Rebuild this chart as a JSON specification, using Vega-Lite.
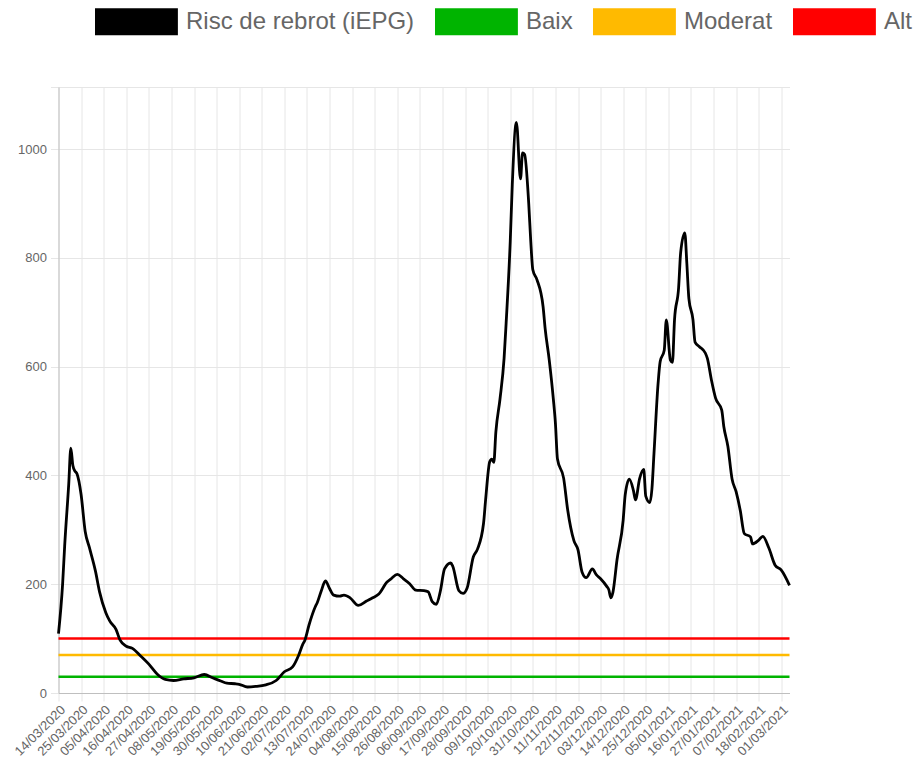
{
  "$schema": "https://vega.github.io/schema/vega-lite/v6.json",
  "width": 731,
  "height": 606,
  "autosize": {"type": "none"},
  "padding": {"left": 58.5, "top": 87, "right": 131.5, "bottom": 67},
  "background": "white",
  "config": {"view": {"stroke": null}, "font": "Liberation Sans"},
  "layer": [
    {
      "data": {"values": [
        {"nivell": "Baix", "valor": 30},
        {"nivell": "Moderat", "valor": 70},
        {"nivell": "Alt", "valor": 100}
      ]},
      "mark": {"type": "rule", "strokeWidth": 2.5},
      "encoding": {
        "y": {"field": "valor", "type": "quantitative"},
        "color": {"field": "nivell", "type": "nominal", "title": null}
      }
    },
    {
      "data": {"values": [
        {"data": "2020-03-14", "iepg": 109},
        {"data": "2020-03-16", "iepg": 200},
        {"data": "2020-03-17", "iepg": 270},
        {"data": "2020-03-19", "iepg": 385},
        {"data": "2020-03-20", "iepg": 450},
        {"data": "2020-03-21", "iepg": 418},
        {"data": "2020-03-22", "iepg": 408},
        {"data": "2020-03-23", "iepg": 403},
        {"data": "2020-03-25", "iepg": 365},
        {"data": "2020-03-27", "iepg": 297},
        {"data": "2020-03-29", "iepg": 268},
        {"data": "2020-04-01", "iepg": 224},
        {"data": "2020-04-03", "iepg": 186},
        {"data": "2020-04-06", "iepg": 148},
        {"data": "2020-04-08", "iepg": 132},
        {"data": "2020-04-11", "iepg": 117},
        {"data": "2020-04-13", "iepg": 97},
        {"data": "2020-04-16", "iepg": 86},
        {"data": "2020-04-19", "iepg": 82},
        {"data": "2020-04-23", "iepg": 68},
        {"data": "2020-04-27", "iepg": 53},
        {"data": "2020-05-01", "iepg": 35},
        {"data": "2020-05-05", "iepg": 25},
        {"data": "2020-05-09", "iepg": 23},
        {"data": "2020-05-14", "iepg": 26},
        {"data": "2020-05-19", "iepg": 28},
        {"data": "2020-05-24", "iepg": 34},
        {"data": "2020-05-28", "iepg": 28},
        {"data": "2020-06-01", "iepg": 22},
        {"data": "2020-06-04", "iepg": 18},
        {"data": "2020-06-08", "iepg": 17},
        {"data": "2020-06-10", "iepg": 16},
        {"data": "2020-06-14", "iepg": 11},
        {"data": "2020-06-18", "iepg": 12},
        {"data": "2020-06-23", "iepg": 15},
        {"data": "2020-06-28", "iepg": 23},
        {"data": "2020-07-02", "iepg": 39},
        {"data": "2020-07-06", "iepg": 48},
        {"data": "2020-07-09", "iepg": 70},
        {"data": "2020-07-11", "iepg": 90},
        {"data": "2020-07-12", "iepg": 97},
        {"data": "2020-07-14", "iepg": 125},
        {"data": "2020-07-17", "iepg": 158},
        {"data": "2020-07-18", "iepg": 166},
        {"data": "2020-07-20", "iepg": 188},
        {"data": "2020-07-22", "iepg": 206},
        {"data": "2020-07-24", "iepg": 192},
        {"data": "2020-07-26", "iepg": 180},
        {"data": "2020-07-29", "iepg": 178},
        {"data": "2020-07-31", "iepg": 180},
        {"data": "2020-08-03", "iepg": 175},
        {"data": "2020-08-07", "iepg": 161},
        {"data": "2020-08-11", "iepg": 169},
        {"data": "2020-08-14", "iepg": 175},
        {"data": "2020-08-17", "iepg": 182},
        {"data": "2020-08-21", "iepg": 204},
        {"data": "2020-08-23", "iepg": 210},
        {"data": "2020-08-26", "iepg": 218},
        {"data": "2020-08-29", "iepg": 210},
        {"data": "2020-09-01", "iepg": 201},
        {"data": "2020-09-04", "iepg": 189},
        {"data": "2020-09-08", "iepg": 188},
        {"data": "2020-09-10", "iepg": 186},
        {"data": "2020-09-12", "iepg": 168},
        {"data": "2020-09-14", "iepg": 163},
        {"data": "2020-09-16", "iepg": 188},
        {"data": "2020-09-18", "iepg": 228},
        {"data": "2020-09-21", "iepg": 239},
        {"data": "2020-09-22", "iepg": 233},
        {"data": "2020-09-25", "iepg": 188},
        {"data": "2020-09-27", "iepg": 183},
        {"data": "2020-09-29", "iepg": 193},
        {"data": "2020-10-02", "iepg": 250},
        {"data": "2020-10-04", "iepg": 264},
        {"data": "2020-10-07", "iepg": 312},
        {"data": "2020-10-08", "iepg": 355},
        {"data": "2020-10-10", "iepg": 425},
        {"data": "2020-10-11", "iepg": 430},
        {"data": "2020-10-12", "iepg": 424},
        {"data": "2020-10-13", "iepg": 480},
        {"data": "2020-10-15", "iepg": 540},
        {"data": "2020-10-17", "iepg": 615},
        {"data": "2020-10-18", "iepg": 680},
        {"data": "2020-10-20", "iepg": 830},
        {"data": "2020-10-21", "iepg": 935},
        {"data": "2020-10-23", "iepg": 1049},
        {"data": "2020-10-25", "iepg": 945},
        {"data": "2020-10-26", "iepg": 993},
        {"data": "2020-10-27", "iepg": 990},
        {"data": "2020-10-29", "iepg": 900},
        {"data": "2020-10-30", "iepg": 830},
        {"data": "2020-10-31", "iepg": 778},
        {"data": "2020-11-02", "iepg": 760},
        {"data": "2020-11-05", "iepg": 710},
        {"data": "2020-11-06", "iepg": 670},
        {"data": "2020-11-08", "iepg": 612},
        {"data": "2020-11-10", "iepg": 540},
        {"data": "2020-11-11", "iepg": 496},
        {"data": "2020-11-12", "iepg": 430},
        {"data": "2020-11-15", "iepg": 395},
        {"data": "2020-11-17", "iepg": 336},
        {"data": "2020-11-20", "iepg": 280},
        {"data": "2020-11-22", "iepg": 263},
        {"data": "2020-11-24", "iepg": 222},
        {"data": "2020-11-26", "iepg": 212},
        {"data": "2020-11-29", "iepg": 228},
        {"data": "2020-12-01", "iepg": 217},
        {"data": "2020-12-03", "iepg": 210},
        {"data": "2020-12-06", "iepg": 196},
        {"data": "2020-12-07", "iepg": 190},
        {"data": "2020-12-08", "iepg": 175},
        {"data": "2020-12-09", "iepg": 185},
        {"data": "2020-12-11", "iepg": 245},
        {"data": "2020-12-14", "iepg": 318},
        {"data": "2020-12-15", "iepg": 365},
        {"data": "2020-12-17", "iepg": 393},
        {"data": "2020-12-19", "iepg": 372},
        {"data": "2020-12-20", "iepg": 355},
        {"data": "2020-12-22", "iepg": 394},
        {"data": "2020-12-24", "iepg": 411},
        {"data": "2020-12-25", "iepg": 362},
        {"data": "2020-12-27", "iepg": 350},
        {"data": "2020-12-28", "iepg": 375},
        {"data": "2020-12-29", "iepg": 440},
        {"data": "2020-12-31", "iepg": 569},
        {"data": "2021-01-01", "iepg": 609},
        {"data": "2021-01-03", "iepg": 630},
        {"data": "2021-01-04", "iepg": 686},
        {"data": "2021-01-06", "iepg": 612},
        {"data": "2021-01-07", "iepg": 608},
        {"data": "2021-01-08", "iepg": 686},
        {"data": "2021-01-10", "iepg": 745},
        {"data": "2021-01-11", "iepg": 810},
        {"data": "2021-01-13", "iepg": 846},
        {"data": "2021-01-14", "iepg": 790},
        {"data": "2021-01-15", "iepg": 725},
        {"data": "2021-01-17", "iepg": 686},
        {"data": "2021-01-18", "iepg": 645},
        {"data": "2021-01-20", "iepg": 637},
        {"data": "2021-01-23", "iepg": 625},
        {"data": "2021-01-24", "iepg": 615},
        {"data": "2021-01-26", "iepg": 575},
        {"data": "2021-01-28", "iepg": 542},
        {"data": "2021-01-31", "iepg": 520},
        {"data": "2021-02-01", "iepg": 490},
        {"data": "2021-02-03", "iepg": 453},
        {"data": "2021-02-05", "iepg": 394},
        {"data": "2021-02-07", "iepg": 370},
        {"data": "2021-02-09", "iepg": 336},
        {"data": "2021-02-11", "iepg": 293},
        {"data": "2021-02-14", "iepg": 287},
        {"data": "2021-02-15", "iepg": 274},
        {"data": "2021-02-18", "iepg": 281},
        {"data": "2021-02-20", "iepg": 288},
        {"data": "2021-02-23", "iepg": 266},
        {"data": "2021-02-26", "iepg": 235},
        {"data": "2021-03-01", "iepg": 226},
        {"data": "2021-03-05", "iepg": 198}
      ]},
      "mark": {"type": "line", "interpolate": "monotone", "strokeWidth": 2.8},
      "encoding": {
        "x": {
          "field": "data",
          "type": "temporal",
          "scale": {
            "type": "utc",
            "domain": [
              {"year": 2020, "month": 3, "date": 14, "utc": true},
              {"year": 2021, "month": 3, "date": 5, "utc": true}
            ]
          },
          "axis": {
            "title": null,
            "labelExpr": "utcFormat(datum.value, '%d/%m/%Y')",
            "values": [
              {"year": 2020, "month": 3, "date": 14, "utc": true},
              {"year": 2020, "month": 3, "date": 25, "utc": true},
              {"year": 2020, "month": 4, "date": 5, "utc": true},
              {"year": 2020, "month": 4, "date": 16, "utc": true},
              {"year": 2020, "month": 4, "date": 27, "utc": true},
              {"year": 2020, "month": 5, "date": 8, "utc": true},
              {"year": 2020, "month": 5, "date": 19, "utc": true},
              {"year": 2020, "month": 5, "date": 30, "utc": true},
              {"year": 2020, "month": 6, "date": 10, "utc": true},
              {"year": 2020, "month": 6, "date": 21, "utc": true},
              {"year": 2020, "month": 7, "date": 2, "utc": true},
              {"year": 2020, "month": 7, "date": 13, "utc": true},
              {"year": 2020, "month": 7, "date": 24, "utc": true},
              {"year": 2020, "month": 8, "date": 4, "utc": true},
              {"year": 2020, "month": 8, "date": 15, "utc": true},
              {"year": 2020, "month": 8, "date": 26, "utc": true},
              {"year": 2020, "month": 9, "date": 6, "utc": true},
              {"year": 2020, "month": 9, "date": 17, "utc": true},
              {"year": 2020, "month": 9, "date": 28, "utc": true},
              {"year": 2020, "month": 10, "date": 9, "utc": true},
              {"year": 2020, "month": 10, "date": 20, "utc": true},
              {"year": 2020, "month": 10, "date": 31, "utc": true},
              {"year": 2020, "month": 11, "date": 11, "utc": true},
              {"year": 2020, "month": 11, "date": 22, "utc": true},
              {"year": 2020, "month": 12, "date": 3, "utc": true},
              {"year": 2020, "month": 12, "date": 14, "utc": true},
              {"year": 2020, "month": 12, "date": 25, "utc": true},
              {"year": 2021, "month": 1, "date": 5, "utc": true},
              {"year": 2021, "month": 1, "date": 16, "utc": true},
              {"year": 2021, "month": 1, "date": 27, "utc": true},
              {"year": 2021, "month": 2, "date": 7, "utc": true},
              {"year": 2021, "month": 2, "date": 18, "utc": true},
              {"year": 2021, "month": 3, "date": 1, "utc": true}
            ],
            "labelAngle": -45,
            "labelFontSize": 13,
            "labelColor": "#666666",
            "labelOverlap": false,
            "labelPadding": 2,
            "gridColor": "#e6e6e6",
            "tickColor": "#e6e6e6",
            "tickSize": 8,
            "domainColor": "#bfbfbf"
          }
        },
        "y": {
          "field": "iepg",
          "type": "quantitative",
          "scale": {"domain": [0, 1114], "nice": false},
          "axis": {
            "title": null,
            "values": [0, 200, 400, 600, 800, 1000, 1114],
            "labelExpr": "datum.value > 1100 ? '' : format(datum.value, 'd')",
            "labelFontSize": 13,
            "labelColor": "#666666",
            "labelPadding": 4,
            "gridColor": "#e6e6e6",
            "tickColor": "#e6e6e6",
            "tickSize": 8,
            "domainColor": "#bfbfbf"
          }
        },
        "color": {
          "datum": "Risc de rebrot (iEPG)",
          "type": "nominal",
          "title": null,
          "scale": {
            "domain": ["Risc de rebrot (iEPG)", "Baix", "Moderat", "Alt"],
            "range": ["#000000", "#00b400", "#ffba00", "#ff0000"]
          },
          "legend": {
            "title": null,
            "orient": "none",
            "legendX": 36.5,
            "legendY": -92.5,
            "direction": "horizontal",
            "columns": 4,
            "padding": 0,
            "columnPadding": 20,
            "symbolType": "M-1,-0.5H2.07V0.5H-1Z",
            "symbolSize": 2916,
            "symbolStrokeWidth": 0,
            "labelFontSize": 24,
            "labelColor": "#666666",
            "labelFont": "Liberation Sans",
            "labelLimit": 400,
            "labelOffset": 37,
            "encode": {
              "symbols": {
                "update": {
                  "fill": {"scale": "color", "field": "value"},
                  "stroke": {"scale": "color", "field": "value"},
                  "strokeWidth": {"value": 0},
                  "opacity": {"value": 1}
                }
              }
            }
          }
        }
      }
    }
  ]
}
